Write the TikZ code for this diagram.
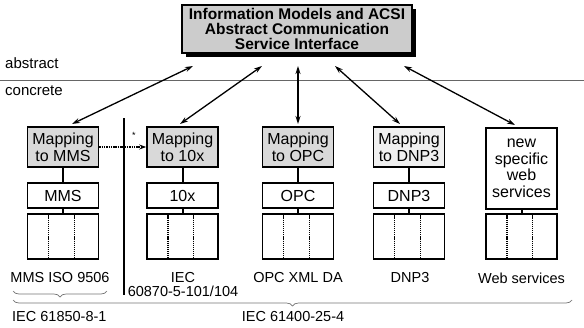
\documentclass[tikz,border=0pt]{standalone}
\usepackage{fontspec}
\setmainfont{Liberation Sans}
\usetikzlibrary{arrows.meta,shadows,calc,decorations.pathreplacing}

\begin{document}
\begin{tikzpicture}[x=1pt,y=-1pt,
  box/.style={draw=black,line width=1.6pt,minimum width=71pt,inner sep=0pt,
              align=center,font=\fontsize{16}{17}\selectfont},
  mapbox/.style={box,fill=gray!30,minimum height=40pt},
  protbox/.style={box,fill=white,minimum height=25pt},
  stackbox/.style={box,fill=white,minimum height=45pt},
  link/.style={line width=2pt},
  sdot/.style={line width=1.4pt,dash pattern=on 1.2pt off 0.9pt},
  bi/.style={line width=1.3pt,
             {Stealth[length=8pt,width=5pt]}-{Stealth[length=8pt,width=5pt]}},
  lab/.style={font=\fontsize{14.5}{14}\selectfont,align=center,inner sep=0pt},
  side/.style={font=\fontsize{15}{17}\selectfont,inner sep=0pt},
  brc/.style={decorate,decoration={brace,mirror,amplitude=6pt},
              draw=black!55,line width=0.7pt},
]
\useasboundingbox (0,0) rectangle (584,327);

% abstract / concrete separation
\coordinate (sepL) at (0,80);
\coordinate (sepR) at (584,80);
\draw[black!60,line width=0.8pt] (sepL) -- (sepR);
\node[side,anchor=base west] (abs) at (5,68) {abstract};
\node[side,anchor=base west] (conc) at (5,95) {concrete};

% ACSI box
\node[draw=black,line width=1.6pt,fill=gray!40,minimum width=230pt,
      minimum height=48pt,inner sep=0pt,align=center,
      font=\bfseries\fontsize{15.5}{15}\selectfont,
      drop shadow={shadow xshift=4pt,shadow yshift=-4pt,fill=black,opacity=1}]
      (acsi) at (297,29)
      {Information Models and ACSI\\Abstract Communication\\Service Interface};

% mapping boxes
\node[mapbox] (m1) at (63,147)   {Mapping\\to MMS};
\node[mapbox] (m2) at (182.5,147) {Mapping\\to 10x};
\node[mapbox] (m3) at (298,147)  {Mapping\\to OPC};
\node[mapbox,fill=gray!12] (m4) at (409,147) {Mapping\\to DNP3};
\node[box,fill=white,minimum height=81pt,font=\fontsize{16}{16.5}\selectfont]
      (m5) at (521.5,168.5) {new\\specific\\web\\services};

% protocol boxes
\node[protbox] (p1) at (63,195.5)    {MMS};
\node[protbox] (p2) at (182.5,195.5) {10x};
\node[protbox] (p3) at (298,195.5)   {OPC};
\node[protbox] (p4) at (409,195.5)   {DNP3};

% stack boxes
\foreach \i/\x in {1/63,2/182.5,3/298,4/409,5/521.5}{
  \node[stackbox] (s\i) at (\x,236.5) {};
  \draw[sdot] ($(s\i.north west)!0.30!(s\i.north east)$) --
              ($(s\i.south west)!0.30!(s\i.south east)$);
  \draw[sdot] ($(s\i.north west)!0.655!(s\i.north east)$) --
              ($(s\i.south west)!0.655!(s\i.south east)$);
}

% vertical links
\foreach \i in {1,2,3,4}{
  \draw[link] (m\i) -- (p\i);
  \draw[link] (p\i) -- (s\i);
}
\draw[link] (m5) -- (s5);

% interface arrows
\coordinate (t1) at (193,66);
\coordinate (t2) at (262,66);
\coordinate (t3) at (298,66);
\coordinate (t4) at (335,66);
\coordinate (t5) at (404,66);
\coordinate (b1) at (72,124);
\coordinate (b2) at (180,124);
\coordinate (b3) at (298,124);
\coordinate (b4) at (400,124);
\coordinate (b5) at (515,125);
\foreach \i in {1,...,5}{\draw[bi] (t\i) -- (b\i);}

% divider between IEC 61850-8-1 and IEC 61400-25-4
\coordinate (d1) at (124,118);
\coordinate (d2) at (124,295);
\draw[line width=1.6pt] (d1) -- (d2);

% optional mapping
\draw[line width=1.4pt,dash pattern=on 1.5pt off 0.8pt,
      -{Stealth[length=7pt,width=5pt]}] (m1.east) -- (m2.west);
\node[font=\fontsize{9}{9}\selectfont,inner sep=0pt] (star) at (134,135) {*};

% standard labels
\node[lab] (l1) at (60,278)    {MMS ISO 9506};
\node[lab] (l2) at (183,285)   {IEC\\60870-5-101/104};
\node[lab] (l3) at (298,278)   {OPC XML DA};
\node[lab] (l4) at (410,278)   {DNP3};
\node[lab] (l5) at (521.5,278) {Web services};

% braces
\coordinate (bs1) at (13,291);
\coordinate (bs2) at (107,291);
\coordinate (bb1) at (13,300);
\coordinate (bb2) at (572,300);
\draw[brc] (bs1) -- (bs2);
\draw[brc] (bb1) -- (bb2);
\node[lab,anchor=west] (g1) at (12,317) {IEC 61850-8-1};
\node[lab] (g2) at (293,317) {IEC 61400-25-4};
\end{tikzpicture}
\end{document}
